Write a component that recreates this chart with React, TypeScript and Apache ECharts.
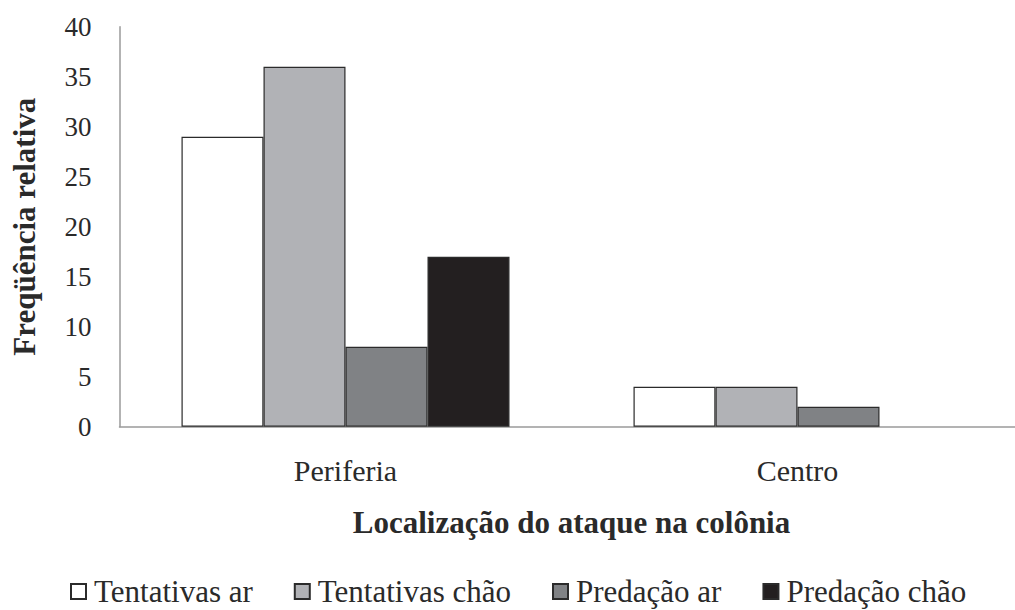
import React, { useEffect, useRef } from "react";
import * as echarts from "echarts";

const categories = ["Periferia", "Centro"];
const seriesNames = ["Tentativas ar", "Tentativas chão", "Predação ar", "Predação chão"];
const tentativasAr = [29, 4];
const tentativasChao = [36, 4];
const predacaoAr = [8, 2];
const predacaoChao = [17, 0];
const seriesColors = ["#ffffff", "#b1b2b6", "#808285", "#231f20"];
const yTicks = { min: 0, max: 40, interval: 5 };

const FONT = "'Liberation Serif', 'DejaVu Serif', serif";
const TEXT = "#2a2a2a";

export default function App() {
  const ref = useRef<HTMLDivElement>(null);
  useEffect(() => {
    if (!ref.current) return;
    const chart = echarts.init(ref.current, undefined, { renderer: "svg" });
    const allData = [tentativasAr, tentativasChao, predacaoAr, predacaoChao];
    chart.setOption({
      animation: false,
      backgroundColor: "#ffffff",
      textStyle: { fontFamily: FONT, color: TEXT },
      grid: { left: 119.5, top: 26.7, width: 904, height: 400 },
      legend: {
        left: 65,
        top: 571,
        itemWidth: 15,
        itemHeight: 15,
        itemGap: 41,
        icon: "rect",
        textStyle: {
          fontFamily: FONT,
          fontSize: 31,
          lineHeight: 30,
          color: TEXT,
          padding: [0, 0, 0, 3],
        },
        data: seriesNames,
      },
      xAxis: {
        type: "category",
        data: categories,
        axisLine: { lineStyle: { color: "#9a9a9a", width: 1.5 } },
        axisTick: { show: false },
        axisLabel: { fontFamily: FONT, fontSize: 30, color: TEXT, margin: 29 },
        name: "Localização do ataque na colônia",
        nameLocation: "middle",
        nameGap: 80,
        nameTextStyle: { fontFamily: FONT, fontSize: 31, fontWeight: "bold", color: TEXT },
      },
      yAxis: {
        type: "value",
        min: yTicks.min,
        max: yTicks.max,
        interval: yTicks.interval,
        axisLine: { show: true, lineStyle: { color: "#9a9a9a", width: 1.5 } },
        axisTick: { show: false },
        splitLine: { show: false },
        axisLabel: { fontFamily: FONT, fontSize: 27, color: TEXT, margin: 28 },
        name: "Freqüência relativa",
        nameLocation: "middle",
        nameGap: 80,
        nameRotate: 90,
        nameTextStyle: { fontFamily: FONT, fontSize: 31, fontWeight: "bold", color: TEXT },
      },
      series: seriesNames.map((name, i) => ({
        name,
        type: "bar",
        barWidth: 82,
        barGap: "0%",
        itemStyle: { color: seriesColors[i], borderColor: "#2b2b2b", borderWidth: 1.2 },
        data: allData[i].map((v) => (v === 0 ? { value: v, itemStyle: { borderWidth: 0 } } : v)),
      })),
    });
    return () => chart.dispose();
  }, []);
  return (
    <div style={{ position: "absolute", left: 0, top: 0, width: 1015, height: 610, overflow: "hidden" }}>
      <div ref={ref} style={{ position: "absolute", left: 0, top: 0, width: 1030, height: 610 }} />
    </div>
  );
}
